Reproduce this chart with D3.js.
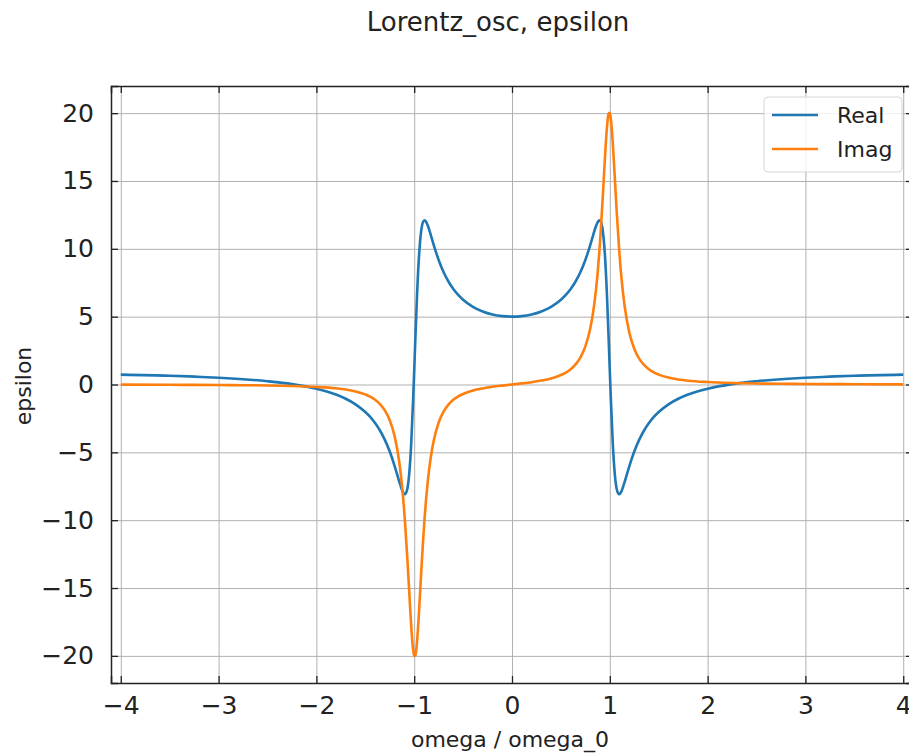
<!DOCTYPE html>
<meta charset='utf-8'>
<style>
  body { margin: 0; background: #fff; }
  text { font-family: 'DejaVu Sans', sans-serif; fill: #222; }
</style>
<div id='chart'></div>
<script src='https://d3js.org/d3.v7.min.js'></script>
<script>

  // values
  var omega = [-4, -3.5, -3.25, -3, -2.75, -2.5, -2.25, -2, -1.8, -1.7, -1.6, -1.5, -1.45, -1.4, -1.35,
    -1.3, -1.25, -1.2, -1.15, -1.12, -1.095, -1.07, -1.05, -1.03, -1.01, -1, -0.99, -0.97, -0.95,
    -0.93, -0.91, -0.894, -0.88, -0.86, -0.83, -0.8, -0.75, -0.7, -0.65, -0.6, -0.55, -0.5, -0.4,
    -0.3, -0.2, -0.1, 0, 0.1, 0.2, 0.3, 0.4, 0.5, 0.55, 0.6, 0.65, 0.7, 0.75, 0.8, 0.83, 0.86,
    0.88, 0.894, 0.91, 0.93, 0.95, 0.97, 0.99, 1, 1.01, 1.03, 1.05, 1.07, 1.095, 1.12, 1.15, 1.2,
    1.25, 1.3, 1.35, 1.4, 1.45, 1.5, 1.6, 1.7, 1.8, 2, 2.25, 2.5, 2.75, 3, 3.25, 3.5, 4];

  var epsReal = [0.73, 0.65, 0.58, 0.50, 0.39, 0.24, 0.03, -0.31, -0.74, -1.05, -1.46, -2.03, -2.39, -2.84, -3.39,
    -4.08, -4.94, -6.01, -7.22, -7.86, -8.09, -7.68, -6.51, -4.28, -0.95, 1.00, 3.01, 6.75, 9.55,
    11.23, 11.97, 12.11, 12.02, 11.70, 11.01, 10.28, 9.18, 8.29, 7.59, 7.04, 6.60, 6.24, 5.72,
    5.38, 5.16, 5.04, 5.00, 5.04, 5.16, 5.38, 5.72, 6.24, 6.60, 7.04, 7.59, 8.29, 9.18, 10.28, 11.01, 11.70,
    12.02, 12.11, 11.97, 11.23, 9.55, 6.75, 3.01, 1.00, -0.95, -4.28, -6.51, -7.68, -8.09, -7.86, -7.22, -6.01,
    -4.94, -4.08, -3.39, -2.84, -2.39, -2.03, -1.46, -1.05, -0.74, -0.31, 0.03, 0.24, 0.39, 0.50, 0.58, 0.65, 0.73];

  var epsImag = [-0.01, -0.02, -0.03, -0.04, -0.05, -0.07, -0.11, -0.18, -0.28, -0.37, -0.51, -0.73, -0.89, -1.12, -1.44,
    -1.91, -2.64, -3.82, -5.86, -7.80, -10.01, -12.82, -15.38, -17.86, -19.61, -20.00, -20.00, -18.87, -16.66,
    -14.08, -11.62, -9.89, -8.60, -7.06, -5.34, -4.12, -2.81, -2.00, -1.48, -1.13, -0.88, -0.70, -0.45,
    -0.29, -0.17, -0.08, 0, 0.08, 0.17, 0.29, 0.45, 0.70, 0.88, 1.13, 1.48, 2.00, 2.81, 4.12, 5.34, 7.06,
    8.60, 9.89, 11.62, 14.08, 16.66, 18.87, 20.00, 20.00, 19.61, 17.86, 15.38, 12.82, 10.01, 7.80, 5.86, 3.82,
    2.64, 1.91, 1.44, 1.12, 0.89, 0.73, 0.51, 0.37, 0.28, 0.18, 0.11, 0.07, 0.05, 0.04, 0.03, 0.02, 0.01];

  var xTicks = [-4, -3, -2, -1, 0, 1, 2, 3, 4];
  var yTicks = [-20, -15, -10, -5, 0, 5, 10, 15, 20];
  var seriesNames = ['Real', 'Imag'];
  var seriesColors = ['#1f77b4', '#ff7f0e'];

  var width = 909, height = 754;
  var plotL = 111, plotR = 913, plotT = 86, plotB = 683;

  var svg = d3.select('#chart')
    .append('svg')
      .attr('width', width)
      .attr('height', height);

  svg.append('rect')
    .attr('width', width)
    .attr('height', height)
    .attr('fill', '#fff');

  var x = d3.scaleLinear().domain([-4.1, 4.1]).range([plotL, plotR]);
  var y = d3.scaleLinear().domain([-22, 22]).range([plotB, plotT]);

  var fmt = function (d) { return d < 0 ? '\u2212' + Math.abs(d) : String(d); };

  // grid
  svg.append('g')
    .attr('transform', 'translate(0,' + plotB + ')')
    .call(d3.axisBottom(x).tickValues(xTicks).tickSize(-(plotB - plotT)).tickFormat(''))
    .call(function (g) { g.select('.domain').remove(); })
    .selectAll('line').attr('stroke', '#b0b0b0').attr('stroke-width', 1);
  svg.append('g')
    .attr('transform', 'translate(' + plotL + ',0)')
    .call(d3.axisLeft(y).tickValues(yTicks).tickSize(-(plotR - plotL)).tickFormat(''))
    .call(function (g) { g.select('.domain').remove(); })
    .selectAll('line').attr('stroke', '#b0b0b0').attr('stroke-width', 1);

  // curves
  var series = [epsReal, epsImag];
  var line = d3.line()
    .x(function (d) { return x(d[0]); })
    .y(function (d) { return y(d[1]); })
    .curve(d3.curveMonotoneX);

  series.forEach(function (vals, i) {
    svg.append('path')
      .datum(omega.map(function (w, k) { return [w, vals[k]]; }))
      .attr('fill', 'none')
      .attr('stroke', seriesColors[i])
      .attr('stroke-width', 2.6)
      .attr('d', line);
  });

  // axes, ticks pointing inward on all four sides
  var axB = svg.append('g')
    .attr('transform', 'translate(0,' + plotB + ')')
    .call(d3.axisBottom(x).tickValues(xTicks).tickSize(-7).tickPadding(13).tickFormat(fmt));
  var axL = svg.append('g')
    .attr('transform', 'translate(' + plotL + ',0)')
    .call(d3.axisLeft(y).tickValues(yTicks).tickSize(-7).tickPadding(17).tickFormat(fmt));
  var axT = svg.append('g')
    .attr('transform', 'translate(0,' + plotT + ')')
    .call(d3.axisTop(x).tickValues(xTicks).tickSize(-7).tickFormat(''));
  var axR = svg.append('g')
    .attr('transform', 'translate(' + plotR + ',0)')
    .call(d3.axisRight(y).tickValues(yTicks).tickSize(-7).tickFormat(''));

  [axB, axL, axT, axR].forEach(function (g) {
    g.select('.domain').attr('stroke', '#222').attr('stroke-width', 1.5);
    g.selectAll('.tick line').attr('stroke', '#222').attr('stroke-width', 1.3);
    g.selectAll('.tick text').style('font-size', '25px').attr('fill', '#222');
  });

  // titles
  svg.append('text')
    .attr('x', 498)
    .attr('y', 31)
    .attr('text-anchor', 'middle')
    .style('font-size', '26px')
    .text('Lorentz_osc, epsilon');

  svg.append('text')
    .attr('x', 510)
    .attr('y', 747)
    .attr('text-anchor', 'middle')
    .style('font-size', '22px')
    .text('omega / omega_0');

  svg.append('text')
    .attr('transform', 'translate(31,386) rotate(-90)')
    .attr('text-anchor', 'middle')
    .style('font-size', '22px')
    .text('epsilon');

  // legend
  var legend = svg.append('g');
  legend.append('rect')
    .attr('x', 764).attr('y', 97)
    .attr('width', 138).attr('height', 75)
    .attr('rx', 4)
    .attr('fill', '#fff').attr('fill-opacity', 0.8)
    .attr('stroke', '#d6d6d6');
  seriesNames.forEach(function (name, i) {
    var ly = 115 + i * 34;
    legend.append('line')
      .attr('x1', 772).attr('x2', 818)
      .attr('y1', ly).attr('y2', ly)
      .attr('stroke', seriesColors[i])
      .attr('stroke-width', 2.6);
    legend.append('text')
      .attr('x', 837)
      .attr('y', ly + 8)
      .style('font-size', '22px')
      .text(name);
  });

</script>
